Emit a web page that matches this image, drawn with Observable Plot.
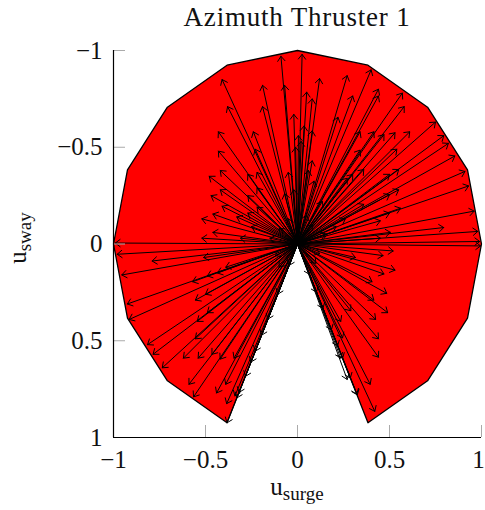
<!DOCTYPE html>
<html><head><meta charset="utf-8">
<script src="https://cdn.jsdelivr.net/npm/d3@7"></script>
<script src="https://cdn.jsdelivr.net/npm/@observablehq/plot@0.6"></script>
<style>
body{margin:0;background:#fff;}
#title{position:absolute;left:113px;top:0;width:368px;height:34px;line-height:34px;text-align:center;font-family:"Liberation Serif",serif;font-size:27px;letter-spacing:0.8px;color:#111;}
#chart{position:absolute;left:0;top:34px;}
</style></head><body>
<div id="title">Azimuth Thruster 1</div>
<div id="chart"></div>
<script>
// arrow end points (surge, sway) — all arrows start at the origin
const surgeEnd = [
 -0.41,-0.19,-0.09,-0.38,-0.19,-0.07,-0.02,-0.43,-0.24,-0.43,-0.23,-0.48,-0.42,-0.27,-0.22,-0.05,-0.47,-0.42,-0.27,-0.22,
 -0.52,-0.46,-0.41,-0.33,-0.52,-0.46,-0.31,-0.99,-0.01,-0.07,-0.02,0.005,-0.27,-0.22,-0.25,
 0.025,0.12,0.27,0.40,0.05,0.08,0.30,0.44,0.44,0.57,0.58,0.22,0.036,0.08,0.75,0.795,0.82,0.855,0.91,0.93,
 0.96,0.98,0.99,0.34,0.415,0.47,0.53,0.61,0.34,0.54,0.06,0.09,0.135,0.30,0.36,0.55,0.50,0.55,0.50,0.56,
 0.50,0.36,0.45,0.795,0.505,0.45,0.02,0.08,0.27,0.26,0.21,0.16,
 0.995,0.52,0.465,0.53,0.47,0.405,0.485,0.415,0.49,0.425,0.44,0.44,0.395,0.42,0.235,0.245,0.29,0.235,0.27,0.325,0.315,
 0.065,0.103,0.138,0.184,0.218,0.245,0.287,0.322,
 -0.98,-0.79,-0.955,-0.51,-0.39,-0.435,-0.49,-0.57,-0.925,-0.555,-0.50,-0.915,-0.545,-0.49,-0.815,-0.785,-0.555,-0.62,-0.54,-0.465,
 -0.42,-0.735,-0.59,-0.565,-0.44,-0.39,-0.385,-0.345,-0.34,
 -0.046,-0.107,-0.161,-0.195,-0.230,-0.253,-0.283,-0.318,-0.329,-0.383,
 0.08,-0.10,0.12,-0.12,0.05,-0.05,0.15,-0.15,0.10,-0.10
];
const swayEnd = [
 -0.85,-0.82,-0.97,-0.71,-0.71,-0.82,-0.67,-0.58,-0.58,-0.48,-0.49,-0.35,-0.38,-0.36,-0.37,-0.37,-0.25,-0.28,-0.25,-0.29,
 -0.13,-0.155,-0.195,-0.14,-0.03,-0.06,-0.03,-0.005,-0.50,-0.26,-0.28,-0.56,-0.16,-0.19,-0.09,
 -0.98,-0.855,-0.87,-0.90,-0.785,-0.75,-0.765,-0.80,-0.765,-0.78,-0.71,-0.655,-0.61,-0.585,-0.63,-0.56,-0.52,-0.455,-0.375,-0.30,
 -0.17,-0.065,-0.013,-0.58,-0.58,-0.565,-0.575,-0.58,-0.485,-0.49,-0.38,-0.325,-0.22,-0.36,-0.385,-0.385,-0.36,-0.28,-0.255,-0.185,
 -0.16,-0.205,-0.12,-0.085,-0.06,-0.03,-0.53,-0.43,-0.34,-0.13,-0.09,-0.05,
 0.01,0.036,0.06,0.135,0.155,0.195,0.255,0.29,0.355,0.39,0.49,0.585,0.725,0.865,0.40,0.485,0.345,0.59,0.70,0.78,0.07,
 0.157,0.249,0.333,0.444,0.527,0.591,0.693,0.776,
 0.053,0.088,0.16,0.07,0.12,0.15,0.165,0.195,0.31,0.29,0.26,0.39,0.40,0.355,0.52,0.57,0.49,0.59,0.59,0.57,
 0.595,0.64,0.725,0.79,0.77,0.725,0.825,0.59,0.785,
 0.111,0.259,0.388,0.471,0.554,0.610,0.684,0.767,0.795,0.924,
 -0.10,-0.08,0.05,0.06,-0.15,-0.13,-0.05,-0.03,0.10,0.12
];
// feasible thrust region outline
const regionSurge = [0, 0.383, 0.707, 0.924, 1, 0.924, 0.707, 0.383, 0, -0.383, -0.707, -0.924, -1, -0.924, -0.707, -0.383, 0];
const regionSway  = [0, 0.924, 0.707, 0.383, 0, -0.383, -0.707, -0.924, -1, -0.924, -0.707, -0.383, 0, 0.383, 0.707, 0.924, 0];
const xTicks = [-1, -0.5, 0, 0.5, 1];
const yTicks = [-1, -0.5, 0, 0.5, 1];
const xLabel = ["u", "surge"];
const yLabel = ["u", "sway"];

const arrows = surgeEnd.map((x, i) => ({x, y: swayEnd[i]}));
const region = regionSurge.map((x, i) => ({x, y: regionSway[i]}));
const fmt = d => (d < 0 ? "\u2212" : "") + String(Math.abs(d));

const plot = Plot.plot({
  width: 485, height: 476,
  marginLeft: 113, marginRight: 4, marginTop: 16, marginBottom: 73,
  x: {domain: [-1, 1]},
  y: {domain: [-1, 1], reverse: true},
  style: {fontFamily: "'Liberation Serif', serif", fontSize: "25px", color: "#111", background: "white", overflow: "visible"},
  marks: [
    Plot.line(region, {x: "x", y: "y", fill: "red", stroke: "black", strokeWidth: 1.3, curve: "linear"}),
    Plot.arrow(arrows, {x1: 0, y1: 0, x2: "x", y2: "y", stroke: "black", strokeWidth: 1, headLength: 9, headAngle: 75}),
    Plot.axisX(xTicks, {tickSize: -12, tickPadding: 25, stroke: "#aaa", text: null, label: null}),
    Plot.axisX(xTicks.slice(0, -1), {tickSize: 0, tickPadding: 13, fill: "#111", tickFormat: fmt, label: null}),
    Plot.axisX(xTicks.slice(-1), {tickSize: 0, tickPadding: 13, fill: "#111", tickFormat: fmt, label: null, dx: -3}),
    Plot.axisY(yTicks, {tickSize: -12, tickPadding: 23, stroke: "#aaa", fill: "#111", tickFormat: fmt, label: null}),
    Plot.ruleX([-1], {stroke: "black", strokeWidth: 1.2}),
    Plot.ruleY([1], {stroke: "black", strokeWidth: 1.2})
  ]
});
document.getElementById("chart").appendChild(plot);

const svg = d3.select(plot);
const xl = svg.append("text").attr("x", 297).attr("y", 461).attr("text-anchor", "middle")
  .attr("font-size", 25).attr("fill", "#111");
xl.append("tspan").text(xLabel[0]);
xl.append("tspan").attr("font-size", 19).attr("dy", 5).text(xLabel[1]);
const yl = svg.append("text").attr("transform", "translate(26,204) rotate(-90)").attr("text-anchor", "middle")
  .attr("font-size", 25).attr("fill", "#111");
yl.append("tspan").text(yLabel[0]);
yl.append("tspan").attr("font-size", 19).attr("dy", 5).text(yLabel[1]);
</script>
</body></html>
